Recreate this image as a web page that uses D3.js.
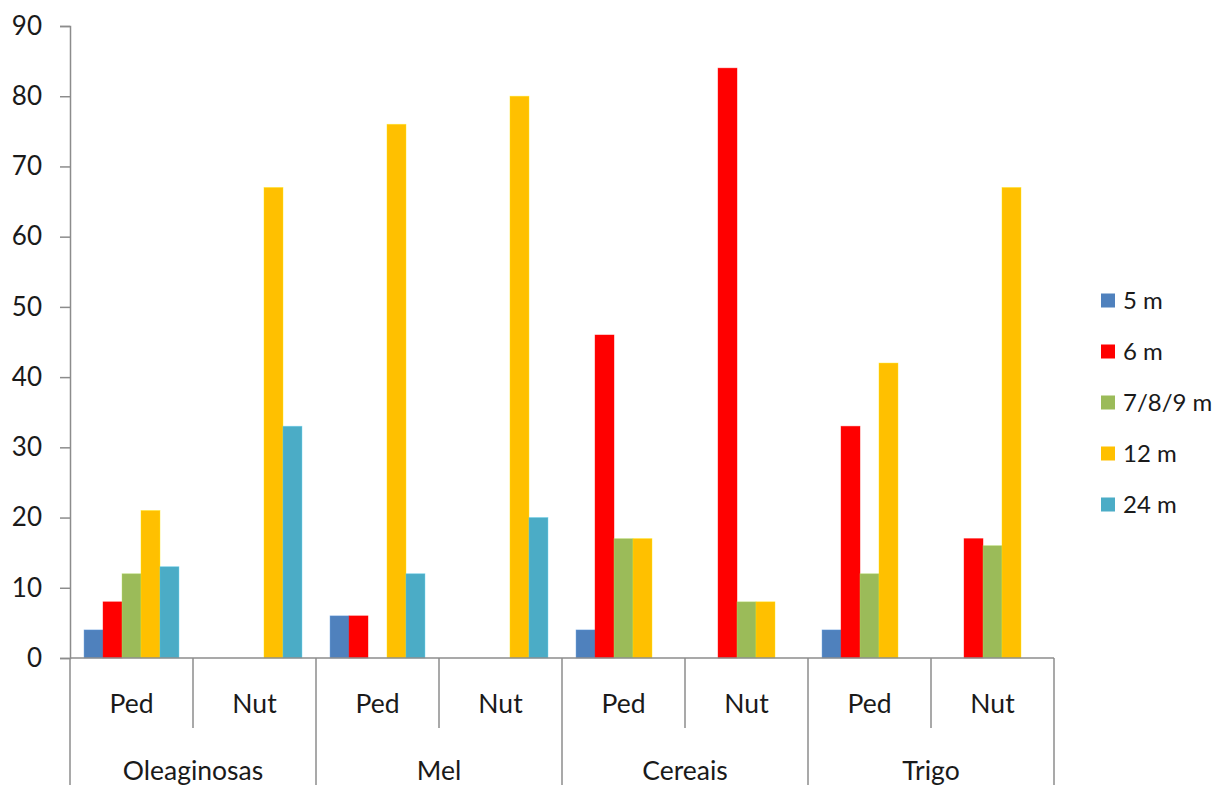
<!DOCTYPE html>
<html>
<head>
<meta charset="utf-8">
<script src="https://cdn.jsdelivr.net/npm/d3@7"></script>
<style>
  html, body { margin: 0; padding: 0; background: #fff; }
  svg text { font-family: Lato, "Open Sans", sans-serif; fill: #1a1a1a; }
</style>
</head>
<body>
<svg id="chart" width="1220" height="785"></svg>
<script>
// Crops and sub-categories (Ped / Nut per crop)
const groups = ["Oleaginosas", "Mel", "Cereais", "Trigo"];
const subgroups = ["Ped", "Nut"];
const seriesNames = ["5 m", "6 m", "7/8/9 m", "12 m", "24 m"];
const seriesColors = ["#4F81BD", "#FF0000", "#9BBB59", "#FFC000", "#4BACC6"];

// Values per series, one entry per (crop, sub-category) in order
const s5m   = [4, 0, 6, 0, 4, 0, 4, 0];
const s6m   = [8, 0, 6, 0, 46, 84, 33, 17];
const s789m = [12, 0, 0, 0, 17, 8, 12, 16];
const s12m  = [21, 67, 76, 80, 17, 8, 42, 67];
const s24m  = [13, 33, 12, 20, 0, 0, 0, 0];
const seriesValues = [s5m, s6m, s789m, s12m, s24m];

const yTicks = [0, 10, 20, 30, 40, 50, 60, 70, 80, 90];

const svg = d3.select("#chart");
const plotLeft = 70, plotRight = 1054, plotTop = 26, plotBottom = 658;
const axisColor = "#8c8c8c";

// One band per (crop, sub-category)
const slots = [];
groups.forEach(g => subgroups.forEach(s => slots.push(g + "|" + s)));

const x = d3.scaleBand().domain(slots).range([plotLeft, plotRight]).padding(0);
const xInner = d3.scaleBand().domain(seriesNames).range([0, x.bandwidth()])
  .paddingInner(0).paddingOuter(0.74);
const y = d3.scaleLinear().domain([0, 90]).range([plotBottom, plotTop]);

// Bars
const barData = [];
slots.forEach((slot, i) => {
  seriesNames.forEach((name, k) => {
    const v = seriesValues[k][i];
    if (v > 0) barData.push({ slot, name, v, color: seriesColors[k] });
  });
});

svg.append("g").selectAll("rect").data(barData).join("rect")
  .attr("x", d => x(d.slot) + xInner(d.name))
  .attr("y", d => y(d.v))
  .attr("width", xInner.bandwidth())
  .attr("height", d => y(0) - y(d.v))
  .attr("fill", d => d.color)
  .attr("stroke", d => d3.color(d.color).brighter(0.5))
  .attr("stroke-opacity", 0.5)
  .attr("stroke-width", 0.8);

// Y axis
const yAxis = d3.axisLeft(y).tickValues(yTicks).tickSize(10).tickPadding(18).tickFormat(d3.format("d"));
const gy = svg.append("g").attr("transform", `translate(${plotLeft},0)`).call(yAxis);
gy.select(".domain").attr("stroke", axisColor).attr("stroke-width", 1.5);
gy.selectAll(".tick line").attr("stroke", axisColor).attr("stroke-width", 1.5);
gy.selectAll(".tick text").style("font-size", "26px").style("font-family", "Lato, sans-serif").attr("fill", "#1a1a1a");

// Baseline
svg.append("line")
  .attr("x1", plotLeft).attr("x2", plotRight)
  .attr("y1", y(0)).attr("y2", y(0))
  .attr("stroke", axisColor).attr("stroke-width", 1.5);

// Category dividers: short for sub-categories, full height for crops
const boundaries = d3.range(slots.length + 1);
svg.append("g").selectAll("line").data(boundaries).join("line")
  .attr("x1", i => plotLeft + i * x.step())
  .attr("x2", i => plotLeft + i * x.step())
  .attr("y1", y(0))
  .attr("y2", i => (i % subgroups.length === 0) ? 785 : 728)
  .attr("stroke", axisColor).attr("stroke-width", 1.5);

// Sub-category labels
svg.append("g").selectAll("text").data(slots).join("text")
  .attr("x", d => x(d) + x.bandwidth() / 2)
  .attr("y", 713)
  .attr("text-anchor", "middle")
  .style("font-size", "26.5px")
  .text(d => d.split("|")[1]);

// Crop labels
svg.append("g").selectAll("text").data(groups).join("text")
  .attr("x", (g, i) => plotLeft + (i * subgroups.length + subgroups.length / 2) * x.step())
  .attr("y", 780)
  .attr("text-anchor", "middle")
  .style("font-size", "26.5px")
  .text(d => d);

// Legend
const legend = svg.append("g").attr("transform", "translate(1101,0)");
const legendY = d3.scalePoint().domain(seriesNames).range([301, 505]);
const items = legend.selectAll("g").data(seriesNames).join("g")
  .attr("transform", d => `translate(0,${legendY(d)})`);
items.append("rect")
  .attr("x", 0).attr("y", -7.5).attr("width", 14).attr("height", 14)
  .attr("fill", (d, i) => seriesColors[i]);
items.append("text")
  .attr("x", 22).attr("y", 0).attr("dy", "0.35em")
  .style("font-size", "24px")
  .text(d => d);
</script>
</body>
</html>
